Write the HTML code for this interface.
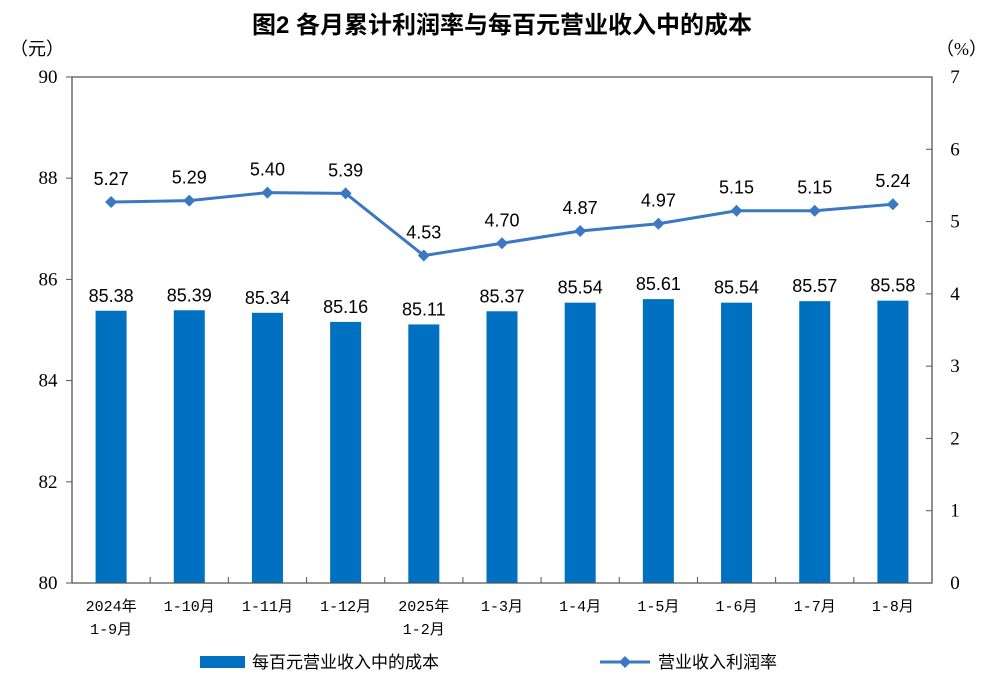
<!DOCTYPE html>
<html><head><meta charset="utf-8"><style>
body{margin:0;background:#fff;}
svg{display:block;}
</style></head><body>
<svg id="c" width="1005" height="686" xmlns="http://www.w3.org/2000/svg">
<text x="502" y="33" text-anchor="middle" font-family="'Liberation Sans','Noto Sans CJK SC',sans-serif" font-size="24" font-weight="bold" fill="#000">图2  各月累计利润率与每百元营业收入中的成本</text>
<text x="10" y="55" font-family="'Liberation Serif','Noto Sans CJK SC',serif" font-size="18">（元）</text>
<text x="936" y="55" font-family="'Liberation Serif','Noto Sans CJK SC',serif" font-size="18">（%）</text>
<g id="g"></g>
<rect x="200" y="656" width="45" height="12" fill="#0070C0"/>
<text x="252" y="668" font-family="'Liberation Sans','Noto Sans CJK SC',sans-serif" font-size="17">每百元营业收入中的成本</text>
<line x1="600" y1="662" x2="650" y2="662" stroke="#3A78C2" stroke-width="3"/>
<path d="M625 656 L631 662 L625 668 L619 662Z" fill="#3A78C2"/>
<text x="658" y="668" font-family="'Liberation Sans','Noto Sans CJK SC',sans-serif" font-size="17">营业收入利润率</text>
</svg>
<script>
const categories=[["2024年","1-9月"],["1-10月"],["1-11月"],["1-12月"],["2025年","1-2月"],["1-3月"],["1-4月"],["1-5月"],["1-6月"],["1-7月"],["1-8月"]];
const costValues=[85.38,85.39,85.34,85.16,85.11,85.37,85.54,85.61,85.54,85.57,85.58];
const rateValues=[5.27,5.29,5.40,5.39,4.53,4.70,4.87,4.97,5.15,5.15,5.24];
const leftTicks=[80,82,84,86,88,90];
const rightTicks=[0,1,2,3,4,5,6,7];
const NS="http://www.w3.org/2000/svg";
const g=document.getElementById('g');
const L=72,R=932,T=77,B=583;
const bw=(R-L)/categories.length;
const xC=i=>L+bw*(i+0.5);
const yL=v=>B-(v-80)/10*(B-T);
const yR=v=>B-v/7*(B-T);
function el(t,a,p){const e=document.createElementNS(NS,t);for(const k in a)e.setAttribute(k,a[k]);(p||g).appendChild(e);return e;}
const serif="'Liberation Serif',serif", sans="'Liberation Sans','Noto Sans CJK SC',sans-serif";
costValues.forEach((v,i)=>{
 const r=el('rect',{x:xC(i)-15.5,y:yL(v),width:31,height:B-yL(v),fill:'#0070C0'});
 
 
 const t=el('text',{x:xC(i),y:yL(v)-9,'text-anchor':'middle','font-family':sans,'font-size':18});
 t.textContent=v.toFixed(2);
 
 
});
const f=el('path',{d:`M${L} ${B}V${T}H${R}V${B}H${L}`,fill:'none',stroke:'#555','stroke-width':1.3});


leftTicks.forEach(v=>{
 el('line',{x1:L-6,x2:L,y1:yL(v),y2:yL(v),stroke:'#555'});
 const t=el('text',{x:48,y:yL(v)+6,'text-anchor':'middle','font-family':serif,'font-size':19});
 t.textContent=v;
 
 
});
rightTicks.forEach(v=>{
 el('line',{x1:R-6,x2:R,y1:yR(v),y2:yR(v),stroke:'#555'});
 const t=el('text',{x:955,y:yR(v)+6,'text-anchor':'middle','font-family':serif,'font-size':19});
 t.textContent=v;
 
 
});
categories.forEach((c,i)=>{
 if(i>0) el('line',{x1:L+bw*i,x2:L+bw*i,y1:B-6,y2:B,stroke:'#555'});
 c.forEach((s,j)=>{
  const t=el('text',{x:xC(i),y:611+j*23,'text-anchor':'middle','font-family':"'Liberation Mono','Noto Sans CJK SC',monospace",'font-size':15});
  t.textContent=s;
  
  
 });
});
const p=el('polyline',{points:rateValues.map((v,i)=>xC(i)+','+yR(v)).join(' '),fill:'none',stroke:'#3A78C2','stroke-width':3});


rateValues.forEach((v,i)=>{
 const x=xC(i),y=yR(v);
 const m=el('path',{d:`M${x} ${y-6}L${x+6} ${y}L${x} ${y+6}L${x-6} ${y}Z`,fill:'#3A78C2'});
 
 
 const t=el('text',{x:x,y:y-17,'text-anchor':'middle','font-family':sans,'font-size':18});
 t.textContent=v.toFixed(2);
 
 
});
</script>
</body></html>
